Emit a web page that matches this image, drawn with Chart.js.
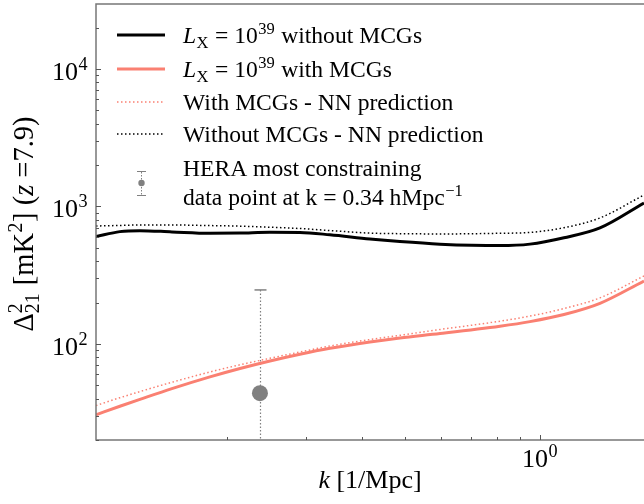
<!DOCTYPE html>
<html>
<head>
<meta charset="utf-8">
<script src="https://cdn.jsdelivr.net/npm/chart.js@4.4.1/dist/chart.umd.min.js"></script>
<style>
  html, body { margin: 0; padding: 0; background: #fff; }
  #wrap { width: 644px; height: 504px; }
</style>
</head>
<body>
<div id="wrap"><canvas id="chart" width="644" height="504"></canvas></div>
<script>
// Data (k in 1/Mpc, power in mK^2)
const kGrid = [0.1016, 0.1149, 0.1274, 0.1502, 0.1827, 0.2133, 0.2489, 0.2904, 0.339, 0.4165, 0.4861, 0.5975, 0.8138, 0.9497, 1.1316, 1.3621, 1.709];
const withoutMCG = [603, 656, 667, 653, 638, 641, 649, 647, 622, 579, 555, 532, 519, 532, 592, 698, 1060];
const withoutMCGNN = [721, 727, 733, 733, 726, 719, 706, 691, 668, 640, 634, 631, 638, 647, 700, 825, 1212];
const withMCG = [30.5, 35.2, 39.5, 47.3, 57.6, 66.3, 75.2, 84.2, 93.0, 103.4, 110.6, 119.0, 134.5, 145.3, 163.6, 197.4, 287];
const withMCGNN = [35.6, 40.6, 45.0, 52.6, 62.5, 70.5, 78.6, 87.3, 96.5, 107.6, 115.5, 127.3, 146.3, 159.3, 180.9, 216.4, 312];

// HERA limit point
const heraK = [0.2364];
const heraVal = [43.8];
const heraUpper = [247];
const heraLower = [1];

const xRange = [0.1016, 1.709];
const yRange = [20, 29700];
const yMajorTicks = [100, 1000, 10000];
const xMajorTicks = [1];

const SERIF = '"Liberation Serif", "DejaVu Serif", serif';
const SALMON = '#fa8072';
const GREY = '#808080';

function pts(arr) {
  return kGrid.map((k, i) => ({ x: k, y: arr[i] }));
}

function font(size, italic) {
  return (italic ? 'italic ' : '') + size + 'px ' + SERIF;
}

// rich text: parts are {t, m} with m = n | i | sup | sub | supsub
function partWidth(ctx, p, size) {
  if (p.m === 'supsub') {
    ctx.font = font(size * 0.7);
    return Math.max(ctx.measureText(p.t[0]).width, ctx.measureText(p.t[1]).width) + 1;
  }
  if (p.m === 'sup' || p.m === 'sub') {
    ctx.font = font(size * 0.7, p.i);
    return ctx.measureText(p.t).width + 1;
  }
  ctx.font = font(size, p.m === 'i');
  return ctx.measureText(p.t).width;
}

function drawRich(ctx, x, y, parts, size, align) {
  let total = 0;
  parts.forEach(p => { total += partWidth(ctx, p, size); });
  let cx = x;
  if (align === 'center') cx = x - total / 2;
  if (align === 'right') cx = x - total;
  ctx.textAlign = 'left';
  ctx.textBaseline = 'alphabetic';
  parts.forEach(p => {
    const w = partWidth(ctx, p, size);
    if (p.m === 'supsub') {
      ctx.fillText(p.t[0], cx, y - size * 0.4);
      ctx.fillText(p.t[1], cx, y + size * 0.22);
    } else if (p.m === 'sup') {
      ctx.fillText(p.t, cx + 0.5, y - size * 0.4);
    } else if (p.m === 'sub') {
      ctx.fillText(p.t, cx + 0.5, y + size * 0.22);
    } else {
      ctx.fillText(p.t, cx, y);
    }
    cx += w;
  });
}

function minorValues(min, max) {
  const out = [];
  for (let e = Math.floor(Math.log10(min)); e <= Math.ceil(Math.log10(max)); e++) {
    for (let m = 1; m < 10; m++) {
      const v = m * Math.pow(10, e);
      if (v >= min && v <= max) out.push({ v, major: m === 1 });
    }
  }
  return out;
}

const decorations = {
  id: 'decorations',
  beforeDatasetsDraw(chart) {
    // HERA error bar (under the marker)
    const ctx = chart.ctx;
    const xs = chart.scales.x, ys = chart.scales.y;
    const a = chart.chartArea;
    ctx.save();
    ctx.beginPath();
    ctx.rect(a.left, a.top, a.right - a.left, a.bottom - a.top);
    ctx.clip();
    heraK.forEach((k, i) => {
      const px = Math.round(xs.getPixelForValue(k)) + 0.5;
      const top = ys.getPixelForValue(heraUpper[i]);
      const bot = ys.getPixelForValue(heraLower[i]);
      ctx.strokeStyle = GREY;
      ctx.lineWidth = 1.2;
      ctx.setLineDash([1.5, 2]);
      ctx.beginPath();
      ctx.moveTo(px, top);
      ctx.lineTo(px, bot);
      ctx.stroke();
      ctx.setLineDash([]);
      ctx.lineWidth = 1.5;
      ctx.beginPath();
      ctx.moveTo(px - 6, top);
      ctx.lineTo(px + 6, top);
      ctx.stroke();
    });
    ctx.restore();
  },
  afterDraw(chart) {
    const ctx = chart.ctx;
    const xs = chart.scales.x, ys = chart.scales.y;
    const a = chart.chartArea;
    ctx.save();

    // spines
    ctx.strokeStyle = '#777';
    ctx.lineWidth = 1.5;
    ctx.beginPath();
    ctx.moveTo(a.right + 2, a.top);
    ctx.lineTo(a.left, a.top);
    ctx.lineTo(a.left, a.bottom);
    ctx.lineTo(a.right + 2, a.bottom);
    ctx.stroke();

    // ticks (inward)
    ctx.strokeStyle = '#555';
    ctx.lineWidth = 1;
    minorValues(yRange[0], yRange[1]).forEach(t => {
      const py = Math.round(ys.getPixelForValue(t.v)) + 0.5;
      ctx.beginPath();
      ctx.moveTo(a.left, py);
      ctx.lineTo(a.left + (t.major ? 5 : 3), py);
      ctx.stroke();
    });
    minorValues(xRange[0], xRange[1]).forEach(t => {
      const px = Math.round(xs.getPixelForValue(t.v)) + 0.5;
      ctx.beginPath();
      ctx.moveTo(px, a.bottom);
      ctx.lineTo(px, a.bottom - (t.major ? 5 : 3));
      ctx.stroke();
    });

    // tick labels
    ctx.fillStyle = '#000';
    yMajorTicks.forEach(v => {
      const py = ys.getPixelForValue(v);
      drawRich(ctx, a.left - 8, py + 11, [{ t: '10', m: 'n' }, { t: String(Math.round(Math.log10(v))), m: 'sup' }], 26, 'right');
    });
    xMajorTicks.forEach(v => {
      const px = xs.getPixelForValue(v);
      drawRich(ctx, px, a.bottom + 27, [{ t: '10', m: 'n' }, { t: String(Math.round(Math.log10(v))), m: 'sup' }], 26, 'center');
    });

    // axis titles
    drawRich(ctx, (a.left + a.right) / 2, a.bottom + 48,
      [{ t: 'k', m: 'i' }, { t: ' [1/Mpc]', m: 'n' }], 26, 'center');
    ctx.save();
    ctx.translate(33, (a.top + a.bottom) / 2 + 2);
    ctx.rotate(-Math.PI / 2);
    drawRich(ctx, 0, 0, [
      { t: 'Δ', m: 'n' }, { t: ['2', '21'], m: 'supsub' },
      { t: ' [mK', m: 'n' }, { t: '2', m: 'sup' }, { t: '] (', m: 'n' },
      { t: 'z', m: 'i' }, { t: ' =7.9)', m: 'n' }
    ], 28.5, 'center');
    ctx.restore();

    // legend
    const lx0 = 117, lx1 = 165, tx = 183, fs = 23.6;
    const entries = [
      { y: 35, color: '#000', w: 3, dash: [], text: [{ t: 'L', m: 'i' }, { t: 'X', m: 'sub' }, { t: ' = 10', m: 'n' }, { t: '39', m: 'sup' }, { t: ' without MCGs', m: 'n' }] },
      { y: 69, color: SALMON, w: 3, dash: [], text: [{ t: 'L', m: 'i' }, { t: 'X', m: 'sub' }, { t: ' = 10', m: 'n' }, { t: '39', m: 'sup' }, { t: ' with MCGs', m: 'n' }] },
      { y: 102, color: SALMON, w: 1.5, dash: [1.5, 2.5], text: [{ t: 'With MCGs - NN prediction', m: 'n' }] },
      { y: 134, color: '#000', w: 1.5, dash: [1.5, 2.5], text: [{ t: 'Without MCGs - NN prediction', m: 'n' }] }
    ];
    entries.forEach(e => {
      ctx.strokeStyle = e.color;
      ctx.lineWidth = e.w;
      ctx.setLineDash(e.dash);
      ctx.beginPath();
      ctx.moveTo(lx0, e.y);
      ctx.lineTo(lx1, e.y);
      ctx.stroke();
      ctx.setLineDash([]);
      ctx.fillStyle = '#000';
      drawRich(ctx, tx, e.y + 8, e.text, fs, 'left');
    });
    // errorbar legend handle
    const hx = 141, hy = 183;
    ctx.strokeStyle = GREY;
    ctx.lineWidth = 1;
    ctx.setLineDash([1.5, 1.5]);
    ctx.beginPath();
    ctx.moveTo(hx + 0.5, hy - 11);
    ctx.lineTo(hx + 0.5, hy + 12);
    ctx.stroke();
    ctx.setLineDash([]);
    ctx.beginPath();
    ctx.moveTo(hx - 4, hy - 11.5); ctx.lineTo(hx + 5, hy - 11.5);
    ctx.moveTo(hx - 4, hy + 12.5); ctx.lineTo(hx + 5, hy + 12.5);
    ctx.stroke();
    ctx.fillStyle = GREY;
    ctx.beginPath();
    ctx.arc(hx + 0.5, hy, 3.2, 0, Math.PI * 2);
    ctx.fill();
    ctx.fillStyle = '#000';
    drawRich(ctx, tx, 176, [{ t: 'HERA most constraining', m: 'n' }], fs, 'left');
    drawRich(ctx, tx, 205, [{ t: 'data point at k = 0.34 hMpc', m: 'n' }, { t: '−1', m: 'sup' }], fs, 'left');

    ctx.restore();
  }
};

new Chart(document.getElementById('chart'), {
  type: 'line',
  data: {
    datasets: [
      { data: pts(withMCGNN), borderColor: SALMON, borderWidth: 1.5, borderDash: [1.5, 2.5], pointRadius: 0, cubicInterpolationMode: 'monotone' },
      { data: pts(withoutMCGNN), borderColor: '#000', borderWidth: 1.5, borderDash: [1.5, 2.5], pointRadius: 0, cubicInterpolationMode: 'monotone' },
      { data: pts(withMCG), borderColor: SALMON, borderWidth: 3, pointRadius: 0, cubicInterpolationMode: 'monotone' },
      { data: pts(withoutMCG), borderColor: '#000', borderWidth: 3, pointRadius: 0, cubicInterpolationMode: 'monotone' },
      { type: 'scatter', data: heraK.map((k, i) => ({ x: k, y: heraVal[i] })), backgroundColor: GREY, borderColor: GREY, pointRadius: 8, borderWidth: 0 }
    ]
  },
  options: {
    responsive: false,
    animation: false,
    layout: { autoPadding: false, padding: { top: 4, right: 0, left: 0, bottom: 0 } },
    plugins: { legend: { display: false }, tooltip: { enabled: false } },
    scales: {
      x: {
        type: 'logarithmic', min: xRange[0], max: xRange[1],
        ticks: { display: false }, grid: { display: false }, border: { display: false },
        afterFit(s) { s.height = 64; }
      },
      y: {
        type: 'logarithmic', min: yRange[0], max: yRange[1],
        ticks: { display: false }, grid: { display: false }, border: { display: false },
        afterFit(s) { s.width = 96; }
      }
    }
  },
  plugins: [decorations]
});
</script>
</body>
</html>
